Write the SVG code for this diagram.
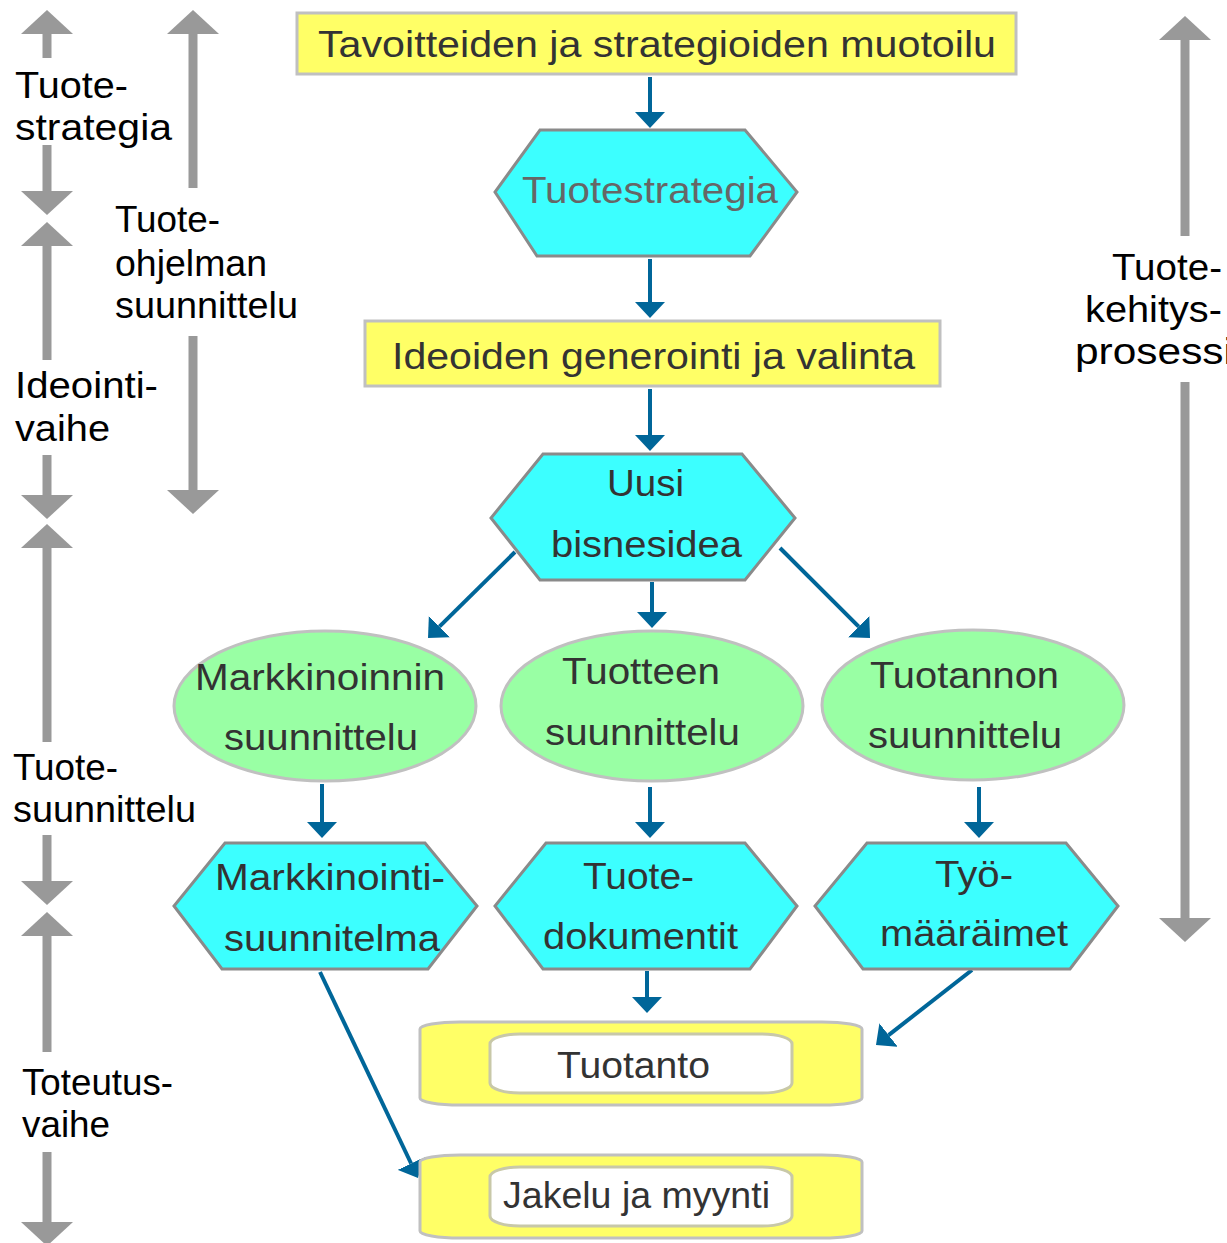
<svg xmlns="http://www.w3.org/2000/svg" width="1227" height="1243" viewBox="0 0 1227 1243">
<style>
.t{font-family:"Liberation Sans",Arial,sans-serif;font-size:37px;fill:#333333}
.lbl{font-family:"Liberation Sans",Arial,sans-serif;font-size:37px;fill:#000000}
.box{fill:#ffff66;stroke:#c0c0c0;stroke-width:3}
.hex{fill:#3cffff;stroke:#8a8a8a;stroke-width:3}
.ell{fill:#99ffa4;stroke:#c0c0c0;stroke-width:3}
.inner{fill:#ffffff;stroke:#c8c8a8;stroke-width:3}
.con{stroke:#006699;stroke-width:4;fill:none;marker-end:url(#ah)}
.gray{stroke:#999999;stroke-width:9;fill:none;marker-end:url(#gh)}
</style>
<defs>
<marker id="ah" viewBox="0 0 16 30" refX="0" refY="15" markerWidth="16" markerHeight="30" markerUnits="userSpaceOnUse" orient="auto">
<path d="M0,0 L16,15 L0,30 Z" fill="#006699"/>
</marker>
<marker id="gh" viewBox="0 0 24 52" refX="0" refY="26" markerWidth="24" markerHeight="52" markerUnits="userSpaceOnUse" orient="auto">
<path d="M0,0 L24,26 L0,52 Z" fill="#999999"/>
</marker>
</defs>
<rect width="1227" height="1243" fill="#ffffff"/>

<g id="side-arrows">
<line class="gray" x1="47" y1="58" x2="47" y2="34"/>
<line class="gray" x1="47" y1="145" x2="47" y2="191"/>
<line class="gray" x1="47" y1="360" x2="47" y2="246"/>
<line class="gray" x1="47" y1="455" x2="47" y2="495"/>
<line class="gray" x1="47" y1="742" x2="47" y2="548"/>
<line class="gray" x1="47" y1="835" x2="47" y2="881"/>
<line class="gray" x1="47" y1="1052" x2="47" y2="936"/>
<line class="gray" x1="47" y1="1152" x2="47" y2="1222"/>
<line class="gray" x1="193" y1="188" x2="193" y2="34"/>
<line class="gray" x1="193" y1="336" x2="193" y2="490"/>
<line class="gray" x1="1185" y1="236" x2="1185" y2="40"/>
<line class="gray" x1="1185" y1="382" x2="1185" y2="918"/>
</g>

<g id="side-labels">
<text class="lbl" x="15" y="98" textLength="113" lengthAdjust="spacingAndGlyphs">Tuote-</text>
<text class="lbl" x="15" y="140" textLength="157" lengthAdjust="spacingAndGlyphs">strategia</text>
<text class="lbl" x="115" y="232" textLength="105" lengthAdjust="spacingAndGlyphs">Tuote-</text>
<text class="lbl" x="115" y="276" textLength="152" lengthAdjust="spacingAndGlyphs">ohjelman</text>
<text class="lbl" x="115" y="318" textLength="183" lengthAdjust="spacingAndGlyphs">suunnittelu</text>
<text class="lbl" x="15" y="398" textLength="143" lengthAdjust="spacingAndGlyphs">Ideointi-</text>
<text class="lbl" x="15" y="441" textLength="95" lengthAdjust="spacingAndGlyphs">vaihe</text>
<text class="lbl" x="13" y="780" textLength="105" lengthAdjust="spacingAndGlyphs">Tuote-</text>
<text class="lbl" x="13" y="822" textLength="183" lengthAdjust="spacingAndGlyphs">suunnittelu</text>
<text class="lbl" x="22" y="1095" textLength="151" lengthAdjust="spacingAndGlyphs">Toteutus-</text>
<text class="lbl" x="22" y="1137" textLength="88" lengthAdjust="spacingAndGlyphs">vaihe</text>
<text class="lbl" x="1112" y="280" textLength="110" lengthAdjust="spacingAndGlyphs">Tuote-</text>
<text class="lbl" x="1085" y="322" textLength="137" lengthAdjust="spacingAndGlyphs">kehitys-</text>
<text class="lbl" x="1075" y="364" textLength="158" lengthAdjust="spacingAndGlyphs">prosessi</text>
</g>

<g id="connectors">
<line class="con" x1="650" y1="77" x2="650" y2="112"/>
<line class="con" x1="650" y1="259" x2="650" y2="302"/>
<line class="con" x1="650" y1="389" x2="650" y2="435"/>
<line class="con" x1="652" y1="582" x2="652" y2="612"/>
<line class="con" x1="515" y1="552" x2="439.4" y2="626.7"/>
<line class="con" x1="780" y1="548" x2="858.7" y2="626.7"/>
<line class="con" x1="322" y1="784" x2="322" y2="822"/>
<line class="con" x1="650" y1="787" x2="650" y2="822"/>
<line class="con" x1="979" y1="787" x2="979" y2="822"/>
<line class="con" x1="647" y1="971" x2="647" y2="997"/>
<line class="con" x1="972" y1="970" x2="888.6" y2="1035.1"/>
<line class="con" x1="320" y1="972" x2="411.1" y2="1163.5"/>
</g>

<g id="n-tavoitteet">
<rect class="box" x="297" y="13" width="719" height="61"/>
<text class="t" x="318" y="57" textLength="678" lengthAdjust="spacingAndGlyphs">Tavoitteiden ja strategioiden muotoilu</text>
</g>

<g id="n-tuotestrategia">
<polygon class="hex" points="540,130 745,130 797,192 750,256 537,256 495,192"/>
<text class="t" x="522" y="203" textLength="256" lengthAdjust="spacingAndGlyphs" style="fill:#666666">Tuotestrategia</text>
</g>

<g id="n-ideoiden">
<rect class="box" x="365" y="321" width="575" height="65"/>
<text class="t" x="392" y="369" textLength="523" lengthAdjust="spacingAndGlyphs">Ideoiden generointi ja valinta</text>
</g>

<g id="n-uusi">
<polygon class="hex" points="543,454 742,454 795,518 745,580 540,580 491,518"/>
<text class="t" x="607" y="496" textLength="77" lengthAdjust="spacingAndGlyphs">Uusi</text>
<text class="t" x="551" y="557" textLength="191" lengthAdjust="spacingAndGlyphs">bisnesidea</text>
</g>

<g id="n-markkinoinnin">
<ellipse class="ell" cx="325" cy="706" rx="151" ry="75"/>
<text class="t" x="195" y="690" textLength="250" lengthAdjust="spacingAndGlyphs">Markkinoinnin</text>
<text class="t" x="224" y="750" textLength="194" lengthAdjust="spacingAndGlyphs">suunnittelu</text>
</g>

<g id="n-tuotteen">
<ellipse class="ell" cx="652" cy="706" rx="151" ry="75"/>
<text class="t" x="562" y="684" textLength="158" lengthAdjust="spacingAndGlyphs">Tuotteen</text>
<text class="t" x="545" y="745" textLength="195" lengthAdjust="spacingAndGlyphs">suunnittelu</text>
</g>

<g id="n-tuotannon">
<ellipse class="ell" cx="973" cy="705" rx="151" ry="75"/>
<text class="t" x="870" y="688" textLength="189" lengthAdjust="spacingAndGlyphs">Tuotannon</text>
<text class="t" x="868" y="748" textLength="194" lengthAdjust="spacingAndGlyphs">suunnittelu</text>
</g>

<g id="n-markkinointisuunnitelma">
<polygon class="hex" points="225,843 425,843 477,906 428,969 222,969 174,906"/>
<text class="t" x="215" y="890" textLength="230" lengthAdjust="spacingAndGlyphs">Markkinointi-</text>
<text class="t" x="224" y="951" textLength="216" lengthAdjust="spacingAndGlyphs">suunnitelma</text>
</g>

<g id="n-tuotedokumentit">
<polygon class="hex" points="546,843 745,843 797,906 750,969 543,969 495,906"/>
<text class="t" x="583" y="889" textLength="111" lengthAdjust="spacingAndGlyphs">Tuote-</text>
<text class="t" x="543" y="949" textLength="195" lengthAdjust="spacingAndGlyphs">dokumentit</text>
</g>

<g id="n-tyomaaraimet">
<polygon class="hex" points="867,843 1066,843 1118,906 1070,969 863,969 815,906"/>
<text class="t" x="935" y="887" textLength="78" lengthAdjust="spacingAndGlyphs">Työ-</text>
<text class="t" x="880" y="946" textLength="188" lengthAdjust="spacingAndGlyphs">määräimet</text>
</g>

<g id="n-tuotanto">
<rect class="box" x="420" y="1022" width="442" height="83" rx="40" ry="7"/>
<rect class="inner" x="490" y="1034" width="302" height="59" rx="30" ry="10"/>
<text class="t" x="557" y="1078" textLength="153" lengthAdjust="spacingAndGlyphs">Tuotanto</text>
</g>

<g id="n-jakelu">
<rect class="box" x="420" y="1155" width="442" height="83" rx="40" ry="7"/>
<rect class="inner" x="490" y="1167" width="302" height="59" rx="30" ry="10"/>
<text class="t" x="503" y="1208" textLength="267" lengthAdjust="spacingAndGlyphs">Jakelu ja myynti</text>
</g>
</svg>
